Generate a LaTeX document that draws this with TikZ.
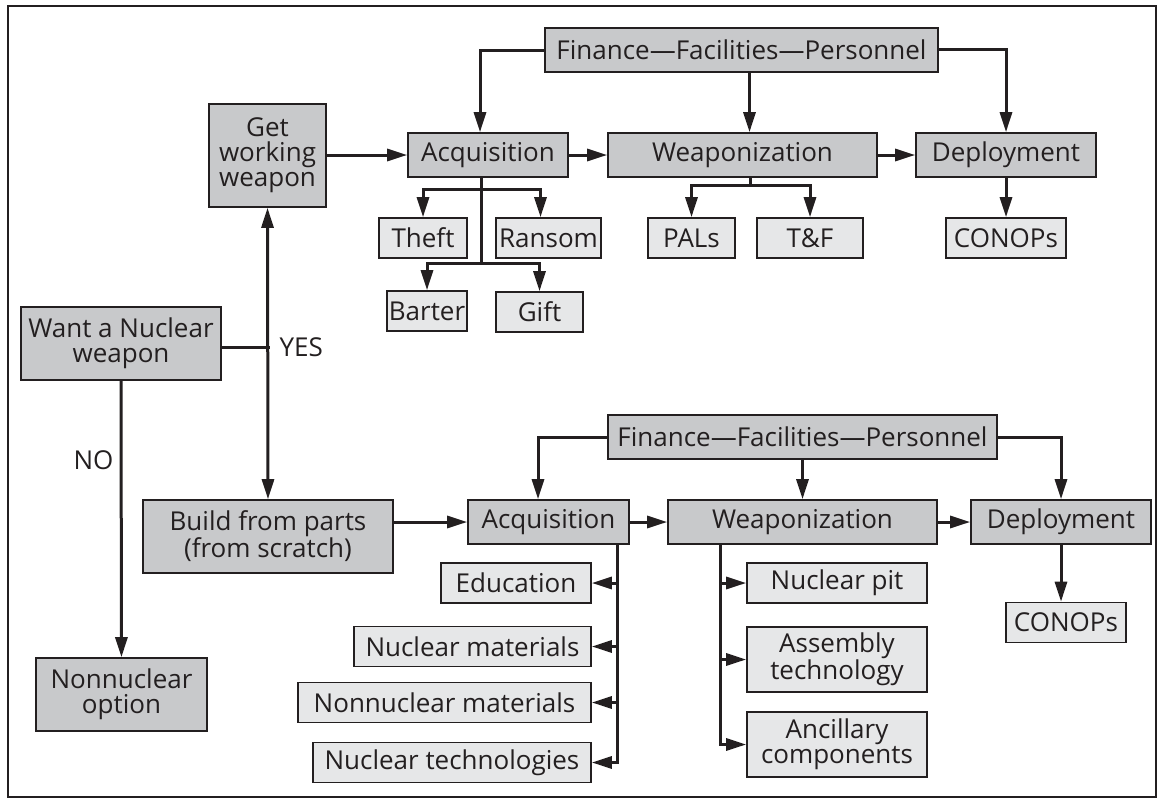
\documentclass[tikz,border=0pt]{standalone}
\usepackage{fontspec}
\setmainfont{Open Sans}
\usetikzlibrary{arrows.meta}
\definecolor{boxdark}{RGB}{200,201,203}
\definecolor{boxlight}{RGB}{230,231,232}
\definecolor{ink}{RGB}{35,31,32}
\begin{document}
\begin{tikzpicture}[x=1pt,y=-1pt,>={Triangle[length=20pt,width=12pt]}]
\tikzstyle{every node}=[font=\fontsize{26}{25}\selectfont, text=ink]
\tikzstyle{main}=[draw=ink, line width=1.6pt, fill=boxdark, inner sep=0pt, align=center, minimum height=44pt]
\tikzstyle{sub}=[main, fill=boxlight, minimum height=40pt]
\tikzstyle{wire}=[draw=ink, line width=3pt, line cap=rect]
\tikzstyle{arr}=[wire, ->]
\useasboundingbox (0,0) rectangle (1157,798);
\draw[ink, line width=1.5pt] (8,6) rectangle (1156,797);

% decision
\node[main, minimum width=200pt, minimum height=73pt] (want) at (121,343.5) {Want a Nuclear\\weapon};
\node[main, minimum width=171pt, minimum height=73pt] (nonnuc) at (121.5,694.5) {Nonnuclear\\option};
\node[main, minimum width=117pt, minimum height=103pt] (getw) at (267.5,155.5) {Get\\working\\weapon};
\node[main, minimum width=250pt, minimum height=73pt] (build) at (268,536.5) {Build from parts\\(from scratch)};
\node[anchor=west] (yes) at (276,347) {YES};
\node[anchor=east] (no) at (117,460) {NO};

% working weapon
\node[main, minimum width=393pt] (fin1) at (741.5,50) {Finance---Facilities---Personnel};
\node[main, minimum width=160pt] (acq1) at (488,155) {Acquisition};
\node[main, minimum width=269pt] (weap1) at (742.5,155) {Weaponization};
\node[main, minimum width=180pt] (dep1) at (1006,155) {Deployment};
\node[sub, minimum width=88pt] (theft) at (423,238) {Theft};
\node[sub, minimum width=105pt] (ransom) at (548.5,238) {Ransom};
\node[sub, minimum width=80pt] (barter) at (427,311) {Barter};
\node[sub, minimum width=87pt] (gift) at (539.5,312) {Gift};
\node[sub, minimum width=87pt] (pals) at (691.5,238) {PALs};
\node[sub, minimum width=106pt] (tf) at (810,238) {T\&F};
\node[sub, minimum width=120pt] (conops1) at (1006,238) {CONOPs};

% from scratch
\node[main, minimum width=389pt] (fin2) at (802.5,437) {Finance---Facilities---Personnel};
\node[main, minimum width=161pt] (acq2) at (548.5,522) {Acquisition};
\node[main, minimum width=269pt] (weap2) at (802.5,522) {Weaponization};
\node[main, minimum width=180pt] (dep2) at (1061,522) {Deployment};
\node[sub, minimum width=150pt] (educ) at (516,583) {Education};
\node[sub, minimum width=237pt] (nucmat) at (472.5,646.5) {Nuclear materials};
\node[sub, minimum width=293pt] (nonmat) at (444.5,702.5) {Nonnuclear materials};
\node[sub, minimum width=278pt] (nuctech) at (452,762.5) {Nuclear technologies};
\node[sub, minimum width=180pt] (pit) at (837,583) {Nuclear pit};
\node[sub, minimum width=180pt, minimum height=65pt] (assem) at (837,659.5) {Assembly\\technology};
\node[sub, minimum width=180pt, minimum height=65pt] (ancil) at (837,744.5) {Ancillary\\components};
\node[sub, minimum width=120pt] (conops2) at (1066,622.5) {CONOPs};

% yes / no
\coordinate (fork) at (268,347);
\draw[wire] (want.east |- fork) -- (fork);
\draw[arr, <->] (getw.south) -- (build.north);
\draw[arr] (want) -- (nonnuc);

% upper links
\draw[arr] (getw.east |- acq1) -- (acq1.west);
\draw[arr] (acq1) -- (weap1);
\draw[arr] (weap1) -- (dep1);
\draw[arr] (fin1.west) -| ([xshift=-8pt]acq1.north);
\draw[arr] ([xshift=8pt]fin1.south) -- ([xshift=8pt]fin1.south |- weap1.north);
\draw[arr] ([yshift=1pt]fin1.east) -| (dep1.north);
\coordinate (t1) at (481,189);
\coordinate (t2) at (481,263);
\draw[wire] (acq1.south -| t1) -- (t2);
\draw[arr] (t1) -| (theft.north);
\draw[arr] (t1) -| ([xshift=-8pt]ransom.north);
\draw[arr] (t2) -| (barter.north);
\draw[arr] (t2) -| (gift.north);
\coordinate (w1) at (750,185);
\draw[wire] (weap1.south -| w1) -- (w1);
\draw[arr] (w1) -| (pals.north);
\draw[arr] (w1) -| (tf.north);
\draw[arr] (dep1) -- (conops1);

% lower links
\draw[arr] (build.east |- acq2) -- (acq2.west);
\draw[arr] (acq2) -- (weap2);
\draw[arr] (weap2) -- (dep2);
\draw[arr] (fin2.west) -| ([xshift=-10.5pt]acq2.north);
\draw[arr] (fin2.south) -- (fin2.south |- weap2.north);
\draw[arr] (fin2.east) -| (dep2.north);
\coordinate (astem) at ([xshift=68.5pt]acq2.south);
\draw[wire] (astem) -- (astem |- nuctech.east);
\foreach \b in {educ,nucmat,nonmat,nuctech}
  \draw[arr] (astem |- \b.east) -- (\b.east);
\coordinate (wstem) at ([xshift=-82.5pt]weap2.south);
\draw[wire] (wstem) -- (wstem |- ancil.west);
\foreach \b in {pit,assem,ancil}
  \draw[arr] (wstem |- \b.west) -- (\b.west);
\draw[arr] (dep2) -- (dep2 |- conops2.north);
\end{tikzpicture}
\end{document}
